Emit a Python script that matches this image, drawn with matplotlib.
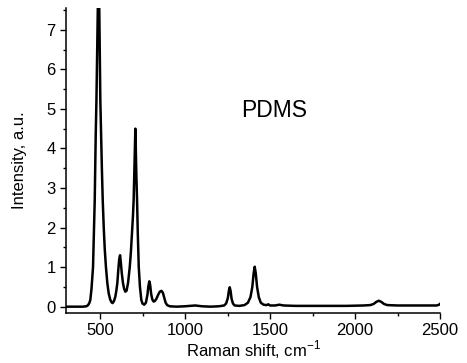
import matplotlib.pyplot as plt
from matplotlib.ticker import MultipleLocator

plt.rcParams["font.family"] = ["Liberation Sans", "DejaVu Sans"]

# Raman spectrum of PDMS
shift = [
    300, 350, 400, 420, 430, 438, 443, 450, 455, 459, 464, 469, 475, 479, 484,
    488, 491, 495, 499, 502, 506, 511, 516, 522, 528, 535, 543, 551, 560, 568,
    574, 582, 590, 596, 602, 608, 613, 618, 623, 628, 635, 642, 649, 656, 665,
    675, 682, 688, 694, 698, 702, 705, 708, 711, 714, 718, 722, 728, 735, 743,
    750, 760, 770, 779, 784, 790, 795, 801, 808, 815, 822, 832, 842, 852, 862,
    870, 878, 886, 895, 910, 950, 1000, 1060, 1100, 1150, 1200, 1230, 1242,
    1252, 1258, 1263, 1268, 1274, 1282, 1292, 1320, 1350, 1370, 1385, 1396,
    1404, 1410, 1416, 1424, 1434, 1446, 1462, 1480, 1490, 1500, 1530, 1555,
    1580, 1650, 1800, 1950, 2050, 2090, 2110, 2125, 2140, 2155, 2170, 2190,
    2250, 2400, 2480, 2495, 2500,
]
intensity = [
    0.0, 0.0, 0.0, 0.01, 0.04, 0.1, 0.17, 0.45, 0.75, 1.0, 1.8, 2.7, 4.38, 5.2, 6.6,
    7.8, 8.3, 7.8, 6.4, 5.2, 4.4, 3.5, 2.7, 2.0, 1.45, 1.0, 0.6, 0.34, 0.18, 0.11,
    0.09, 0.14, 0.25, 0.4, 0.6, 0.95, 1.2, 1.3, 1.1, 0.85, 0.6, 0.45, 0.38, 0.4, 0.6,
    1.0, 1.4, 1.85, 2.3, 2.7, 3.4, 4.0, 4.5, 3.9, 3.3, 2.7, 1.9, 1.0, 0.5, 0.17,
    0.08, 0.05, 0.1, 0.3, 0.5, 0.64, 0.55, 0.32, 0.18, 0.13, 0.14, 0.2, 0.3, 0.38, 0.4,
    0.35, 0.22, 0.1, 0.04, 0.01, 0.0, 0.01, 0.03, 0.01, 0.0, 0.01, 0.03, 0.08,
    0.22, 0.4, 0.49, 0.4, 0.2, 0.08, 0.03, 0.02, 0.04, 0.1, 0.24, 0.5,
    0.85, 1.01, 0.85, 0.5, 0.24, 0.1, 0.05, 0.04, 0.06, 0.03, 0.03, 0.05,
    0.03, 0.02, 0.02, 0.02, 0.03, 0.04, 0.07, 0.12, 0.15, 0.12, 0.07, 0.04,
    0.03, 0.03, 0.03, 0.05, 0.07,
]

fig = plt.figure(figsize=(4.67, 3.63), dpi=100)
ax = fig.add_axes([66 / 467, 1 - 313 / 363, (440 - 66) / 467, (313 - 8) / 363])

ax.plot(shift, intensity, color="black", lw=1.8)

ax.set_xlim(300, 2500)
ax.set_ylim(-0.16, 7.55)
ax.xaxis.set_major_locator(MultipleLocator(500))
ax.xaxis.set_minor_locator(MultipleLocator(250))
ax.yaxis.set_major_locator(MultipleLocator(1))
ax.yaxis.set_minor_locator(MultipleLocator(0.5))

for side in ["top", "right"]:
    ax.spines[side].set_visible(False)
for side in ["left", "bottom"]:
    ax.spines[side].set_linewidth(1.1)

ax.tick_params(which="major", direction="out", length=4.5, width=1, labelsize=12, pad=3)
ax.tick_params(which="minor", direction="out", length=2.5, width=1)

ax.set_xlabel("Raman shift, cm$^{\\mathregular{-1}}$", fontsize=12, labelpad=0)
ax.set_ylabel("Intensity, a.u.", fontsize=12, labelpad=14)

ax.text(1333, 4.97, "PDMS", fontsize=16.5, ha="left", va="center")

fig.savefig("out.png", dpi=100)
